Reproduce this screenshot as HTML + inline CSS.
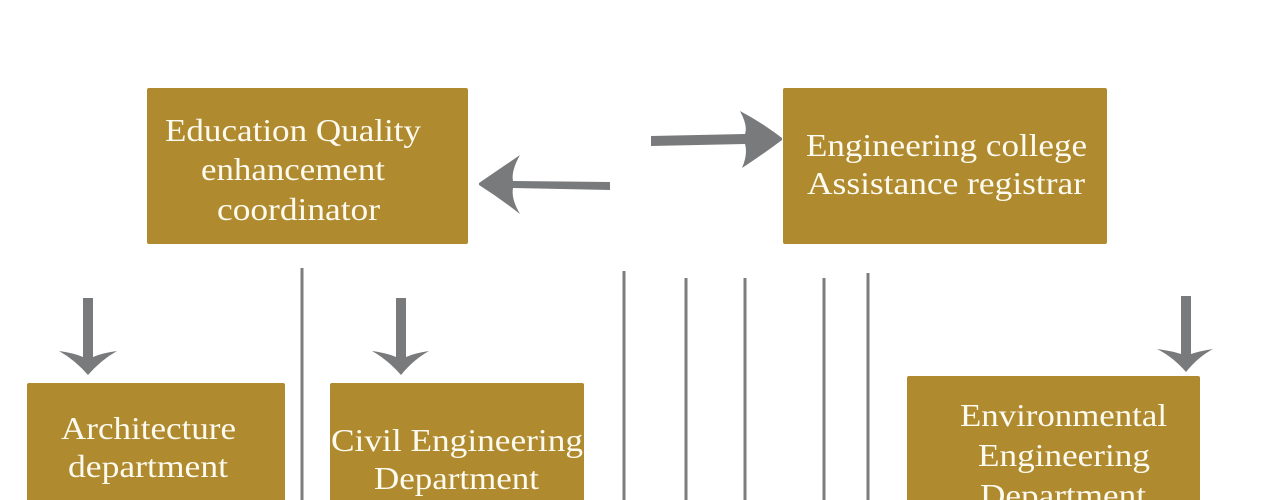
<!DOCTYPE html>
<html>
<head>
<meta charset="utf-8">
<style>
  html,body{margin:0;padding:0;background:#fff;}
  svg{display:block;}
  text{font-family:"Liberation Serif","Times New Roman",serif;fill:#fdfaf0;font-size:32px;}
</style>
</head>
<body>
<svg width="1270" height="500" viewBox="0 0 1270 500" xmlns="http://www.w3.org/2000/svg">
  <rect x="0" y="0" width="1270" height="500" fill="#ffffff"/>

  <!-- Top boxes -->
  <rect x="147" y="88" width="321" height="156" rx="2" fill="#b08a2f"/>
  <rect x="783" y="88" width="324" height="156" rx="2" fill="#b08a2f"/>

  <!-- Bottom boxes -->
  <rect x="27" y="383" width="258" height="130" rx="2" fill="#b08a2f"/>
  <rect x="330" y="383" width="254" height="130" rx="2" fill="#b08a2f"/>
  <rect x="907" y="376" width="293" height="140" rx="2" fill="#b08a2f"/>

  <!-- Texts -->
  <text x="165" y="141" textLength="256" lengthAdjust="spacingAndGlyphs">Education Quality</text>
  <text x="201" y="180" textLength="184" lengthAdjust="spacingAndGlyphs">enhancement</text>
  <text x="217" y="220" textLength="163" lengthAdjust="spacingAndGlyphs">coordinator</text>

  <text x="806" y="156" textLength="281" lengthAdjust="spacingAndGlyphs">Engineering college</text>
  <text x="807" y="194" textLength="278" lengthAdjust="spacingAndGlyphs">Assistance registrar</text>

  <text x="61" y="439" textLength="175" lengthAdjust="spacingAndGlyphs">Architecture</text>
  <text x="68" y="477" textLength="160" lengthAdjust="spacingAndGlyphs">department</text>

  <text x="331" y="451" textLength="252" lengthAdjust="spacingAndGlyphs">Civil Engineering</text>
  <text x="374" y="489" textLength="165" lengthAdjust="spacingAndGlyphs">Department</text>

  <text x="960" y="426" textLength="207" lengthAdjust="spacingAndGlyphs">Environmental</text>
  <text x="978" y="466" textLength="172" lengthAdjust="spacingAndGlyphs">Engineering</text>
  <text x="980" y="506" textLength="166" lengthAdjust="spacingAndGlyphs">Department</text>

  <!-- Horizontal arrows -->
  <path d="M479,183 Q501,168 520,155 Q511,171 513,181 L610,182 L610,190 L513,188 Q511,199 520,214 Q501,199 479,185 Z" fill="#797a7c"/>
  <path d="M782,138 Q761,122 740,111 Q748,126 745,134 L651,136 L651,146 L745,144 Q748,154 742,168 Q762,155 782,140 Z" fill="#797a7c"/>

  <!-- Down arrows -->
  <path d="M88,375 Q75,360 59,351 Q74,353 83,357 L83,298 L93,298 L93,357 Q102,353 117,351 Q101,360 88,375 Z" fill="#797a7c"/>
  <path d="M401,375 Q388,360 372,351 Q387,353 396,357 L396,298 L406,298 L406,357 Q415,353 429,351 Q413,360 401,375 Z" fill="#797a7c"/>
  <path d="M1186,372 Q1173,357 1157,349 Q1172,351 1181,354 L1181,296 L1191,296 L1191,354 Q1200,351 1213,349 Q1198,357 1186,372 Z" fill="#797a7c"/>

  <!-- Vertical lines -->
  <g stroke="#7d7d7f" stroke-width="3">
    <line x1="302" y1="268" x2="302" y2="500"/>
    <line x1="624" y1="271" x2="624" y2="500"/>
    <line x1="686" y1="278" x2="686" y2="500"/>
    <line x1="745" y1="278" x2="745" y2="500"/>
    <line x1="824" y1="278" x2="824" y2="500"/>
    <line x1="868" y1="273" x2="868" y2="500"/>
  </g>
</svg>
</body>
</html>
